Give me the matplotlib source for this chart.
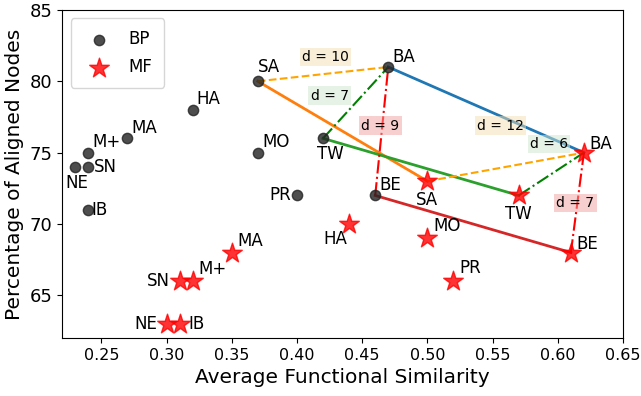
import matplotlib
matplotlib.use("Agg")
import matplotlib.pyplot as plt
import numpy as np

# aligner names
names = ["SA", "BA", "TW", "BE", "PR", "MO", "HA", "MA", "M+", "SN", "NE", "IB"]

# BP results
bp_fs = [0.37, 0.47, 0.42, 0.46, 0.40, 0.37, 0.32, 0.27, 0.24, 0.24, 0.23, 0.24]
bp_an = [80, 81, 76, 72, 72, 75, 78, 76, 75, 74, 74, 71]

# MF results
mf_fs = [0.50, 0.62, 0.57, 0.61, 0.52, 0.50, 0.44, 0.35, 0.32, 0.31, 0.30, 0.31]
mf_an = [73, 75, 72, 68, 66, 69, 70, 68, 66, 66, 63, 63]

# distance labels to BA
bp_dist = {"SA": 10, "TW": 7, "BE": 9}
mf_dist = {"SA": 12, "TW": 6, "BE": 7}
bp_dist_pos = {"SA": (0.422, 81.7), "TW": (0.425, 79.0), "BE": (0.464, 76.9)}
mf_dist_pos = {"SA": (0.556, 76.9), "TW": (0.593, 75.6), "BE": (0.6135, 71.5)}

# label offsets (points), ha, va
bp_off = {"SA": ((0, 4), "left", "bottom"), "BA": ((3, 1), "left", "bottom"),
          "TW": ((-4, -5), "left", "top"), "BE": ((3, 1), "left", "bottom"),
          "PR": ((-4, 0), "right", "center"), "MO": ((3, 1), "left", "bottom"),
          "HA": ((3, 1), "left", "bottom"), "MA": ((3, 1), "left", "bottom"),
          "M+": ((3, 1), "left", "bottom"), "SN": ((4, 0), "left", "center"),
          "NE": ((1, -5), "center", "top"), "IB": ((2, 0), "left", "center")}
mf_off = {"SA": ((0, -7), "center", "top"), "BA": ((4, 0), "left", "bottom"),
          "TW": ((0, -7), "center", "top"), "BE": ((4, 0), "left", "bottom"),
          "PR": ((4, 3), "left", "bottom"), "MO": ((4, 2), "left", "bottom"),
          "HA": ((-1, -4), "right", "top"), "MA": ((4, 2), "left", "bottom"),
          "M+": ((4, 2), "left", "bottom"), "SN": ((-7, 0), "right", "center"),
          "NE": ((-7, 0), "right", "center"), "IB": ((6, 0), "left", "center")}

pair_colors = {"BA": "tab:blue", "SA": "tab:orange", "TW": "tab:green", "BE": "tab:red"}
dist_style = {"SA": ("orange", "--", "wheat"), "TW": ("green", "-.", "#cfe6cf"),
              "BE": ("red", "-.", "#f2a0a0")}

fig, ax = plt.subplots(figsize=(6.41, 3.96), dpi=100)
fig.subplots_adjust(left=0.097, right=0.972, top=0.975, bottom=0.146)

bx = dict(zip(names, zip(bp_fs, bp_an)))
mx = dict(zip(names, zip(mf_fs, mf_an)))

# solid lines BP -> MF
for n, c in pair_colors.items():
    ax.plot([bx[n][0], mx[n][0]], [bx[n][1], mx[n][1]], color=c, lw=2, zorder=2)

# distance lines to BA
for src, dist, pos in [(bx, bp_dist, bp_dist_pos), (mx, mf_dist, mf_dist_pos)]:
    for n, d in dist.items():
        c, ls, fc = dist_style[n]
        ax.plot([src[n][0], src["BA"][0]], [src[n][1], src["BA"][1]],
                color=c, ls=ls, lw=1.5, zorder=2)
        ax.text(pos[n][0], pos[n][1], "d = %d" % d, fontsize=10, ha="center", va="center",
                bbox=dict(boxstyle="square,pad=0.15", fc=fc, ec="none", alpha=0.5), zorder=4)

ax.scatter(bp_fs, bp_an, s=55, color="#222222", alpha=0.8, label="BP", zorder=3)
ax.scatter(mf_fs, mf_an, s=220, marker="*", color="red", alpha=0.8, label="MF", zorder=3)

for n in names:
    o, ha, va = bp_off[n]
    ax.annotate(n, bx[n], xytext=o, textcoords="offset points", ha=ha, va=va, fontsize=12)
    o, ha, va = mf_off[n]
    ax.annotate(n, mx[n], xytext=o, textcoords="offset points", ha=ha, va=va, fontsize=12)

ax.set_xlim(0.22, 0.65)
ax.set_ylim(62, 85)
ax.set_xticks(np.arange(0.25, 0.651, 0.05))
ax.set_xticklabels(["%.2f" % v for v in np.arange(0.25, 0.651, 0.05)])
ax.set_yticks([65, 70, 75, 80, 85])
ax.tick_params(axis="x", labelsize=11.5)
ax.tick_params(axis="y", labelsize=13)
ax.set_xlabel("Average Functional Similarity", fontsize=14.5)
ax.set_ylabel("Percentage of Aligned Nodes", fontsize=14.5)
ax.legend(loc="upper left", fontsize=12, borderpad=0.7, labelspacing=0.6, handletextpad=0.8)

fig.savefig("out.png", dpi=100)
